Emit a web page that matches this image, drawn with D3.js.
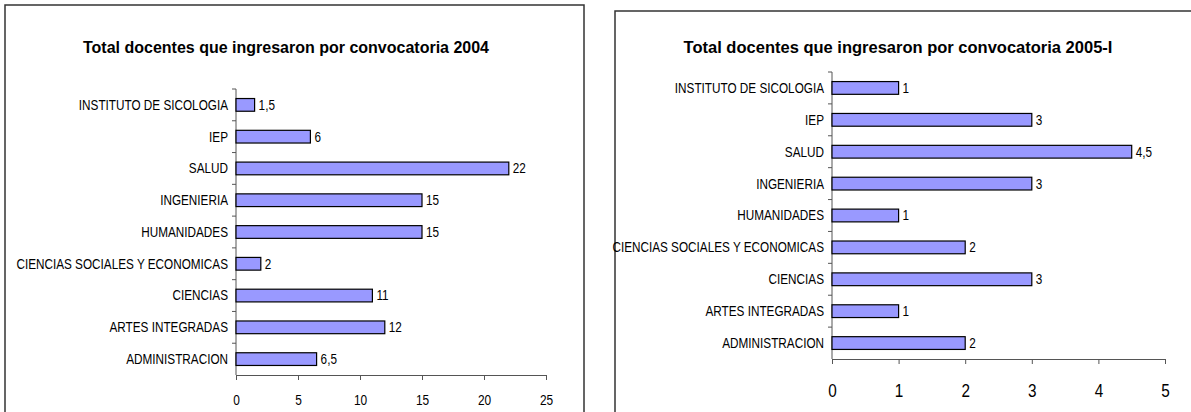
<!DOCTYPE html>
<html>
<head>
<meta charset="utf-8">
<script src="https://cdn.jsdelivr.net/npm/d3@7"></script>
<style>
  body { margin: 0; background: #fff; }
  text { font-family: "Liberation Sans", Arial, sans-serif; fill: #000; }
  .title { font-weight: bold; }
</style>
</head>
<body>
<svg id="chart" width="1191" height="412"></svg>
<script>
'use strict';

var categories = ["INSTITUTO DE SICOLOGIA", "IEP", "SALUD", "INGENIERIA", "HUMANIDADES",
                  "CIENCIAS SOCIALES Y ECONOMICAS", "CIENCIAS", "ARTES INTEGRADAS", "ADMINISTRACION"];
var values2004 = [1.5, 6, 22, 15, 15, 2, 11, 12, 6.5];
var values2005 = [1, 3, 4.5, 3, 1, 2, 3, 1, 2];
var ticks2004 = [0, 5, 10, 15, 20, 25];
var ticks2005 = [0, 1, 2, 3, 4, 5];
var title2004 = "Total docentes que ingresaron por convocatoria 2004";
var title2005 = "Total docentes que ingresaron por convocatoria 2005-I";

var svg = d3.select("#chart");
var NARROW = 0.84;  // the original labels are horizontally squeezed

function fmt(v) {
  return String(v).replace(".", ",");
}

function draw_panel(opt) {
  var g = svg.append("g");

  // frame
  g.append("rect")
   .attr("x", opt.box[0]).attr("y", opt.box[1])
   .attr("width", opt.box[2]).attr("height", opt.box[3])
   .attr("fill", "none").attr("stroke", "#333").attr("stroke-width", 1.5);

  g.append("text")
   .attr("class", "title")
   .attr("x", opt.titleX).attr("y", opt.titleY)
   .attr("text-anchor", "middle")
   .style("font-size", opt.titleSize + "px")
   .text(opt.title);

  var x = d3.scaleLinear().domain([0, opt.ticks[opt.ticks.length - 1]]).range([opt.left, opt.right]);
  var y = d3.scaleBand().domain(categories).range([opt.top, opt.bottom])
            .paddingInner(0.6).paddingOuter(0.3);
  var step = y.step();

  // x axis
  var xAxis = d3.axisBottom(x).tickValues(opt.ticks).tickSize(5).tickPadding(opt.tickPad).tickFormat(fmt);
  var gx = g.append("g").attr("transform", "translate(0," + opt.bottom + ")").call(xAxis);
  gx.select(".domain").attr("stroke", "#555");
  gx.selectAll(".tick line").attr("stroke", "#555");
  gx.selectAll(".tick text")
    .style("font-size", opt.tickSize + "px")
    .style("font-family", "'Liberation Sans', Arial")
    .attr("transform", "scale(" + opt.tickNarrow + ",1)");

  // y axis with ticks on category boundaries
  g.append("line")
   .attr("x1", opt.left).attr("x2", opt.left)
   .attr("y1", opt.top).attr("y2", opt.bottom)
   .attr("stroke", "#555");
  g.selectAll(".ytick")
   .data(d3.range(categories.length))
   .enter().append("line")
   .attr("x1", opt.left - 4).attr("x2", opt.left)
   .attr("y1", function(i) { return opt.top + i * step; })
   .attr("y2", function(i) { return opt.top + i * step; })
   .attr("stroke", "#555");

  g.selectAll(".cat")
   .data(categories)
   .enter().append("text")
   .attr("transform", function(d) {
     return "translate(" + (opt.left - 8) + "," + (y(d) + y.bandwidth() / 2) + ") scale(" + NARROW + ",1)";
   })
   .attr("dy", "0.35em")
   .attr("text-anchor", "end")
   .style("font-size", opt.catSize + "px")
   .text(function(d) { return d; });

  g.selectAll(".bar")
   .data(opt.values)
   .enter().append("rect")
   .attr("x", x(0))
   .attr("y", function(d, i) { return y(categories[i]); })
   .attr("width", function(d) { return x(d) - x(0); })
   .attr("height", y.bandwidth())
   .attr("fill", "#9999ff")
   .attr("stroke", "#000")
   .attr("stroke-width", 1.2);

  g.selectAll(".val")
   .data(opt.values)
   .enter().append("text")
   .attr("transform", function(d, i) {
     return "translate(" + (x(d) + 4) + "," + (y(categories[i]) + y.bandwidth() / 2) + ") scale(" + NARROW + ",1)";
   })
   .attr("dy", "0.35em")
   .style("font-size", opt.valSize + "px")
   .text(fmt);
}

draw_panel({
  box: [5, 5, 579, 420],
  title: title2004, titleX: 286, titleY: 53, titleSize: 16,
  values: values2004, ticks: ticks2004,
  left: 236, right: 546, top: 89, bottom: 375,
  tickSize: 14, tickPad: 15, tickNarrow: 0.85, catSize: 14, valSize: 14
});

draw_panel({
  box: [615, 11, 590, 420],
  title: title2005, titleX: 898, titleY: 53, titleSize: 16.5,
  values: values2005, ticks: ticks2005,
  left: 832, right: 1165, top: 72, bottom: 359,
  tickSize: 18, tickPad: 20, tickNarrow: 0.85, catSize: 14, valSize: 14
});
</script>
</body>
</html>
